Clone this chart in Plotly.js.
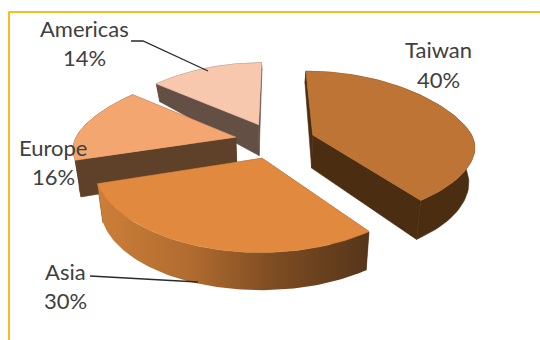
<!DOCTYPE html>
<html>
<head>
<meta charset="utf-8">
<script src="https://cdn.plot.ly/plotly-3.0.1.min.js"></script>
<style>html,body{margin:0;padding:0;background:#fff}#chart{width:540px;height:340px}</style>
</head>
<body>
<div id="chart"></div>
<script>
// Regional share, clockwise from twelve o'clock
const categories = ['Taiwan', 'Asia', 'Europe', 'Americas'];
const shares = [40, 30, 16, 14];
const topColors = ['#bd7434', '#e18a3f', '#f4a671', '#f7c7ae'];
const wallColors = ['#4b2d12', '#6b421e', '#5f4029', '#644f45'];
const labelX = [438, 65, 53, 84];
const nameY = [49, 271, 147, 28];
const percentY = [79, 300, 176, 57];
const drawOrder = [3, 2, 0, 1]; // back slices first

// Projection of the tilted disc onto the page; the far half foreshortens differently
const view = {x0: 275, y0: 140.5, rx: 161, ry: 72, explode: 0.25, shrink: 0.97,
              xMean: 0.17, xSpread: 0.05, yMean: 0.138, ySpread: -0.027};
const steps = 80;

function project(X, Y) {
  const t = Math.tanh(3 * Y);
  const sx = 1 / (1 + (view.xMean + view.xSpread * t) * Y);
  const sy = 1 / (1 + (view.yMean + view.ySpread * t) * Y);
  return [view.x0 + view.rx * X * sx, view.y0 - view.ry * Y * sy];
}
function thickness(Y) {
  return 34.1 - 12.2 * Y - 7.53 * Y * Y;
}
function lowered(X, Y) {
  const p = project(X, Y);
  return [view.x0 + (p[0] - view.x0) * view.shrink, p[1] + thickness(Y)];
}

function polygon(points, fill, extra) {
  return Object.assign({
    type: 'scatter', mode: 'lines', fill: 'toself',
    x: points.map(p => p[0]), y: points.map(p => p[1]),
    fillcolor: fill, line: {width: 0.6, color: fill}, hoverinfo: 'skip'
  }, extra || {});
}

const total = shares.reduce((a, b) => a + b, 0);
const starts = [];
shares.reduce((acc, v, i) => { starts[i] = acc; return acc + v; }, 0);

const traces = [];
drawOrder.forEach(i => {
  const a0 = starts[i] / total * 2 * Math.PI;
  const a1 = (starts[i] + shares[i]) / total * 2 * Math.PI;
  const mid = (a0 + a1) / 2;
  const cx = view.explode * Math.sin(mid);
  const cy = view.explode * Math.cos(mid);
  const arc = [];
  for (let k = 0; k <= steps; k++) {
    const a = a0 + (a1 - a0) * k / steps;
    arc.push([cx + Math.sin(a), cy + Math.cos(a)]);
  }
  const topArc = arc.map(p => project(p[0], p[1]));
  const lowArc = arc.map(p => lowered(p[0], p[1]));
  const hubTop = project(cx, cy);
  const hubLow = lowered(cx, cy);

  // Radial faces
  traces.push(polygon([hubTop, topArc[0], lowArc[0], hubLow, hubTop], wallColors[i]));
  traces.push(polygon([hubTop, topArc[steps], lowArc[steps], hubLow, hubTop], wallColors[i]));

  // Outer rim; the front slice carries a left-to-right shading
  const rim = topArc.concat(lowArc.slice().reverse());
  rim.push(topArc[0]);
  const shaded = categories[i] === 'Asia' ? {
    line: {width: 0},
    fillgradient: {
      type: 'horizontal',
      colorscale: [[0, '#cc7f38'], [0.35, '#b06b30'], [0.65, '#7d4c22'], [1, '#56351a']]
    }
  } : {};
  traces.push(polygon(rim, wallColors[i], shaded));

  // Top face
  traces.push(polygon([hubTop].concat(topArc, [hubTop]), topColors[i]));
});

const labelFont = {family: 'Lato, sans-serif', size: 22, color: '#404040'};
function label(text, x, y) {
  return {x: x, y: y, xref: 'x', yref: 'y', text: text, showarrow: false,
          xanchor: 'center', yanchor: 'middle', font: labelFont};
}
const annotations = [];
categories.forEach((name, i) => {
  annotations.push(label(name, labelX[i], nameY[i]));
  annotations.push(label(shares[i] + '%', labelX[i], percentY[i]));
});

const frame = '#f5bd1f';
const leader = {color: '#2a2a2a', width: 1.3};
const shapes = [
  {type: 'line', xref: 'x', yref: 'y', x0: 8.5, y0: 12, x1: 540, y1: 12, line: {color: frame, width: 2}},
  {type: 'line', xref: 'x', yref: 'y', x0: 9, y0: 12, x1: 9, y1: 340, line: {color: frame, width: 2}},
  {type: 'path', xref: 'x', yref: 'y', path: 'M131,41 L143,41 L208,71', line: leader},
  {type: 'line', xref: 'x', yref: 'y', x0: 90, y0: 276, x1: 198, y1: 282, line: leader}
];

const layout = {
  width: 540, height: 340,
  margin: {l: 0, r: 0, t: 0, b: 0},
  paper_bgcolor: '#fff', plot_bgcolor: '#fff',
  showlegend: false,
  xaxis: {range: [0, 540], visible: false, fixedrange: true},
  yaxis: {range: [340, 0], visible: false, fixedrange: true},
  annotations: annotations,
  shapes: shapes
};

Plotly.newPlot('chart', traces, layout, {displayModeBar: false, staticPlot: true});
</script>
</body>
</html>
